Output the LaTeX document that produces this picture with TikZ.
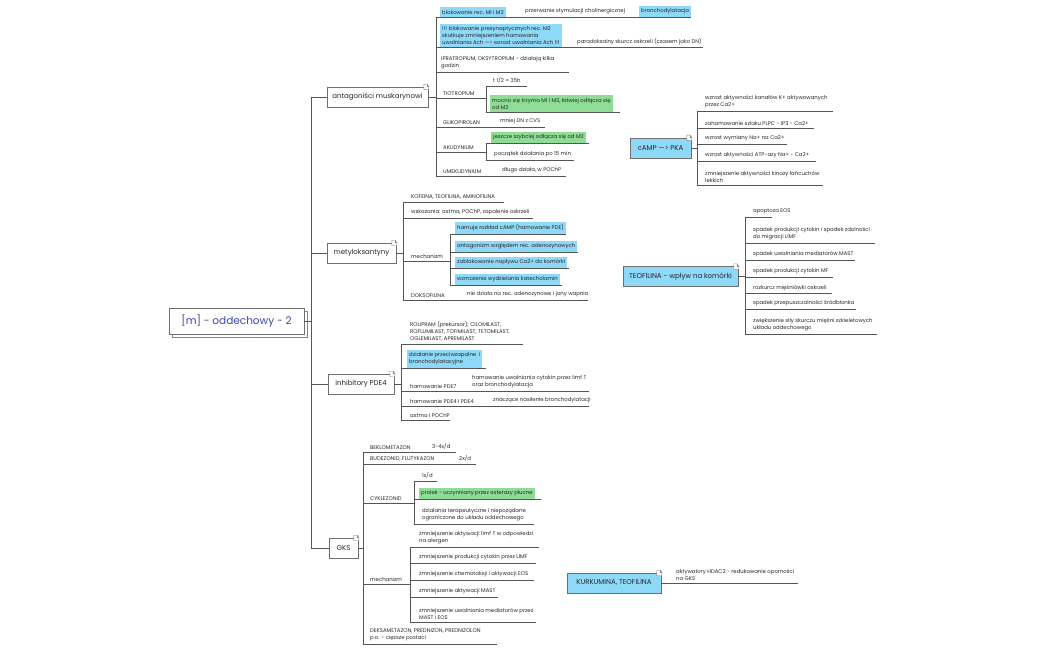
\documentclass[tikz,border=0pt]{standalone}
\usepackage{fontspec}
\setmainfont{Poppins}
\definecolor{lblue}{HTML}{8ED8F8}
\definecolor{lgreen}{HTML}{8EDC96}
\definecolor{lnc}{HTML}{555555}
\definecolor{txc}{HTML}{262626}
\definecolor{rootc}{HTML}{3B47A8}
\tikzset{
  tx/.style={anchor=south west, inner sep=0pt, font=\fontsize{5.35}{7}\selectfont, text=txc, align=left},
  ln/.style={draw=lnc, line width=0.75pt},
  bx/.style={anchor=south west, inner xsep=2pt, inner ysep=2.7pt, font=\fontsize{5.35}{7}\selectfont, text=txc, align=left},
  hlb/.style={bx, fill=lblue},
  hlg/.style={bx, fill=lgreen},
  topic/.style={draw=lnc!85, fill=white, line width=0.6pt, font=\fontsize{7}{8}\selectfont, text=txc, minimum height=20pt, inner sep=0pt},
  btopic/.style={topic, fill=lblue},
  foldst/.style={draw=lnc!70, fill=white, line width=0.4pt},
}
\newcommand\foldat[1]{%
  \begin{scope}[shift={(#1.north east)}]
    \draw[foldst] (-4.5,-2.5) -- (-1.5,-2.5) -- (0.5,-0.5) -- (0.5,3) -- (-4.5,3) -- cycle;
    \draw[foldst] (-1.5,-2.5) -- (-1.5,-0.5) -- (0.5,-0.5);
  \end{scope}}
\begin{document}
\begin{tikzpicture}[x=1pt,y=-1pt]
\useasboundingbox (0,0) rectangle (1050,650);

% ---------- root ----------
\draw[draw=lnc!70, fill=white, line width=0.6pt] (172,311) rectangle (307,337);
\node[topic, minimum width=135pt, minimum height=26pt, font=\fontsize{10.5}{12}\selectfont, text=rootc] (R) at (236.5,321) {[m] - oddechowy - 2};
\coordinate (sp) at (311,321);
\coordinate (spT) at (311,97);
\coordinate (spB) at (311,548);
\draw[ln] (R.east) -- (sp);
\draw[ln] (spT) -- (spB);

% ---------- level 1 topics ----------
\node[topic, minimum width=101pt] (A1) at (377.5,97) {antagoniści muskarynowi};
\node[topic, minimum width=69pt] (M1) at (361.5,253) {metyloksantyny};
\node[topic, minimum width=66pt] (P1) at (361,384) {inhibitory PDE4};
\node[topic, minimum width=29pt] (G1) at (343.5,548) {GKS};
\foreach \n in {A1,M1,P1,G1}{\draw[ln] (\n.west) -- (311,0 |- \n.west);}
\foldat{A1}\foldat{M1}\foldat{P1}\foldat{G1}

% ---------- antagonisci ----------
\coordinate (aB) at (436,97);
\draw[ln] (A1.east) -- (aB);
\draw[ln] (436,17) -- (436,176);
% a
\draw[ln] (436,17) -- (639,17);
\node[hlb] (a1) at (440,17) {blokowanie rec. MI i M3};
\node[tx] (a1b) at (525,14.5) {przerwanie stymulacji cholinergicznej};
\node[hlb] (a1c) at (639,17) {bronchodylatacja};
\draw[ln] (a1c.south west) -- (a1c.south east);
% b
\draw[ln] (436,47.5) -- (703,47.5);
\node[hlb] (a2) at (440,47.5) {!!! blokowanie presynaptycznych rec. M2\\skutkuje zmniejszeniem hamowania\\uwalniania Ach ---> wzrost uwalniania Ach !!!};
\node[tx] (a2b) at (577,45) {paradoksalny skurcz oskrzeli (czasem jako DN)};
% c
\draw[ln] (436,72) -- (569,72);
\node[tx] (a3) at (441,69.5) {IPRATROPIUM, OKSYTROPIUM - działają kilka\\godzin};
% d
\draw[ln] (436,98) -- (486,98);
\node[tx] (a4) at (443,95.5) {TIOTROPIUM};
\draw[ln] (486,86) -- (486,112);
\draw[ln] (486,86) -- (527,86);
\node[tx] (a4a) at (493,83.5) {t 1/2 = 35h};
\draw[ln] (486,112) -- (620,112);
\node[hlg] (a4b) at (490,112) {mocno się trzyma MI i M3, łatwiej odłącza się\\od M2};
% e
\draw[ln] (436,127) -- (545,127);
\node[tx] (a5) at (443,124.5) {GLIKOPIROLAN};
\node[tx] (a5a) at (500,124.5) {mniej DN z CVS};
% f
\draw[ln] (436,152) -- (486,152);
\node[tx] (a6) at (443,149.5) {AKLIDYNIUM};
\draw[ln] (486,143) -- (486,160);
\draw[ln] (486,143) -- (589,143);
\node[hlg] (a6a) at (491,143) {jeszcze szybciej odłącza się od M2};
\draw[ln] (486,160) -- (574,160);
\node[tx] (a6b) at (494,157.5) {początek działania po 15 min};
% g
\draw[ln] (436,176) -- (566,176);
\node[tx] (a7) at (443,173.5) {UMEKLIDYNIUM};
\node[tx] (a7a) at (502,173.5) {długo działa, w POChP};

% ---------- cAMP ----------
\node[btopic, minimum width=61pt] (C1) at (660.5,148) {cAMP ---> PKA};
\foldat{C1}
\coordinate (cB) at (697,148);
\draw[ln] (C1.east) -- (cB);
\draw[ln] (697,111) -- (697,185);
\draw[ln] (697,111) -- (833,111);
\node[tx] (c1) at (705,108.5) {wzrost aktywności kanałów K+ aktywowanych\\przez Ca2+};
\draw[ln] (697,128) -- (814,128);
\node[tx] (c2) at (705,125.5) {zahamowanie szlaku PLPC - IP3 - Ca2+};
\draw[ln] (697,144) -- (787,144);
\node[tx] (c3) at (705,141.5) {wzrost wymiany Na+ na Ca2+};
\draw[ln] (697,161) -- (816,161);
\node[tx] (c4) at (705,158.5) {wzrost aktywności ATP-azy Na+ - Ca2+};
\draw[ln] (697,185) -- (823,185);
\node[tx] (c5) at (705,182.5) {zmniejszenie aktywności kinazy łańcuchów\\lekkich};

% ---------- TEOFILINA ----------
\node[btopic, minimum width=115pt] (T1) at (680.5,276.5) {TEOFILINA - wpływ na komórki};
\foldat{T1}
\coordinate (tB) at (745,276.5);
\draw[ln] (T1.east) -- (tB);
\draw[ln] (745,217) -- (745,334);
\draw[ln] (745,217) -- (772,217);
\node[tx] (t1) at (753,214.5) {apoptoza EOS};
\draw[ln] (745,243) -- (875,243);
\node[tx] (t2) at (753,240.5) {spadek produkcji cytokin i spadek zdolności\\do migracji LIMF};
\draw[ln] (745,260) -- (855,260);
\node[tx] (t3) at (753,257.5) {spadek uwalniania mediatorów MAST};
\draw[ln] (745,277) -- (833,277);
\node[tx] (t4) at (753,274.5) {spadek produkcji cytokin MF};
\draw[ln] (745,293) -- (832,293);
\node[tx] (t5) at (753,290.5) {rozkurcz mięśniówki oskrzeli};
\draw[ln] (745,309) -- (856,309);
\node[tx] (t6) at (753,306.5) {spadek przepuszczalności śródbłonka};
\draw[ln] (745,334) -- (877,334);
\node[tx] (t7) at (753,331.5) {zwiększenie siły skurczu mięśni szkieletowych\\układu oddechowego};

% ---------- metyloksantyny ----------
\coordinate (mB) at (403,253);
\draw[ln] (M1.east) -- (mB);
\draw[ln] (403,202) -- (403,300);
\draw[ln] (403,202) -- (504,202);
\node[tx] (m1) at (411,199.5) {KOFEINA, TEOFILINA, AMINOFILINA};
\draw[ln] (403,218) -- (533,218);
\node[tx] (m2) at (411,215.5) {wskazania: astma, POChP, zapalenie oskrzeli};
\draw[ln] (403,261) -- (450,261);
\node[tx] (m3) at (411,258.5) {mechanizm};
\draw[ln] (450,234) -- (450,285);
\draw[ln] (450,234) -- (566,234);
\node[hlb] (m3a) at (455,234) {hamuje rozkład cAMP (hamowanie PDE)};
\draw[ln] (450,252) -- (578,252);
\node[hlb] (m3b) at (455,252) {antagonizm względem rec. adenozynowych};
\draw[ln] (450,268) -- (569,268);
\node[hlb] (m3c) at (455,268) {zablokowanie napływu Ca2+ do komórki};
\draw[ln] (450,285) -- (562,285);
\node[hlb] (m3d) at (455,285) {wzmożenie wydzielania katecholamin};
\draw[ln] (403,300) -- (588,300);
\node[tx] (m4) at (411,297.5) {DOKSOFILINA};
\node[tx] (m4a) at (467,297.5) {nie działa na rec. adenozynowe i jony wapnia};

% ---------- PDE4 ----------
\coordinate (pB) at (401,384);
\draw[ln] (P1.east) -- (pB);
\draw[ln] (401,344) -- (401,420);
\draw[ln] (401,344) -- (523,344);
\node[tx] (p1) at (410,341.5) {ROLIPRAM (prekursor); CILOMILAST,\\ROFLUMILAST, TOFIMILAST, TETOMILAST,\\OGLEMILAST, APREMILAST};
\draw[ln] (401,368) -- (486,368);
\node[hlb] (p2) at (407,368) {działanie przeciwzapalne\ \ i\\bronchodylatacyjne};
\draw[ln] (401,391) -- (589,391);
\node[tx] (p3) at (410,388.5) {hamowanie PDE7};
\node[tx] (p3a) at (472,388.5) {hamowanie uwalniania cytokin przez limf T\\oraz bronchodylatacja};
\draw[ln] (401,406) -- (589,406);
\node[tx] (p4) at (410,403.5) {hamowanie PDE4 i PDE4};
\node[tx] (p4a) at (493,403.5) {znaczące nasilenie bronchodylatacji};
\draw[ln] (401,420) -- (450,420);
\node[tx] (p5) at (410,417.5) {astma i POChP};

% ---------- GKS ----------
\coordinate (gB) at (363,548);
\draw[ln] (G1.east) -- (gB);
\draw[ln] (363,452) -- (363,644);
\draw[ln] (363,452) -- (456,452);
\node[tx] (g1) at (370,449.5) {BEKLOMETAZON};
\node[tx] (g1a) at (432,449.5) {3-4x/d};
\draw[ln] (363,464) -- (476,464);
\node[tx] (g2) at (370,461.5) {BUDEZONID, FLUTYKAZON};
\node[tx] (g2a) at (459,461.5) {2x/d};
\draw[ln] (363,503) -- (414,503);
\node[tx] (g3) at (370,500.5) {CYKLEZONID};
\draw[ln] (414,481) -- (414,524);
\draw[ln] (414,481) -- (437,481);
\node[tx] (g3a) at (422,478.5) {1x/d};
\draw[ln] (414,499) -- (541,499);
\node[hlg] (g3b) at (419,499) {prolek - uczynniany przez esterazy płucne};
\draw[ln] (414,524) -- (534,524);
\node[tx] (g3c) at (422,521.5) {działania terapeutyczne i niepożądane\\ograniczone do układu oddechowego};
\draw[ln] (363,584) -- (410,584);
\node[tx] (g4) at (370,581.5) {mechanizm};
\draw[ln] (410,547) -- (410,622);
\draw[ln] (410,547) -- (539,547);
\node[tx] (g4a) at (419,544.5) {zmniejszenie aktywacji limf T w odpowiedzi\\na alergen};
\draw[ln] (410,563) -- (536,563);
\node[tx] (g4b) at (419,560.5) {zmniejszenie produkcji cytokin przez LIMF};
\draw[ln] (410,580) -- (534,580);
\node[tx] (g4c) at (419,577.5) {zmniejszenie chemotaksji i aktywacji EOS};
\draw[ln] (410,597) -- (498,597);
\node[tx] (g4d) at (419,594.5) {zmniejszenie aktywacji MAST};
\draw[ln] (410,622) -- (536,622);
\node[tx] (g4e) at (419,619.5) {zmniejszenie uwalniania mediatorów przez\\MAST i EOS};
\draw[ln] (363,644) -- (497,644);
\node[tx] (g5) at (370,641.5) {DEKSAMETAZON, PREDNIZON, PREDNIZOLON\\p.o. - cięższe postaci};

% ---------- KURKUMINA ----------
\node[btopic, minimum width=94pt] (K1) at (614,583) {KURKUMINA, TEOFILINA};
\foldat{K1}
\coordinate (kE) at (798,583);
\draw[ln] (K1.east) -- (kE);
\node[tx] (k1) at (676,580.5) {aktywatory HDAC2 - redukowanie oporności\\na GKS};
\end{tikzpicture}
\end{document}
